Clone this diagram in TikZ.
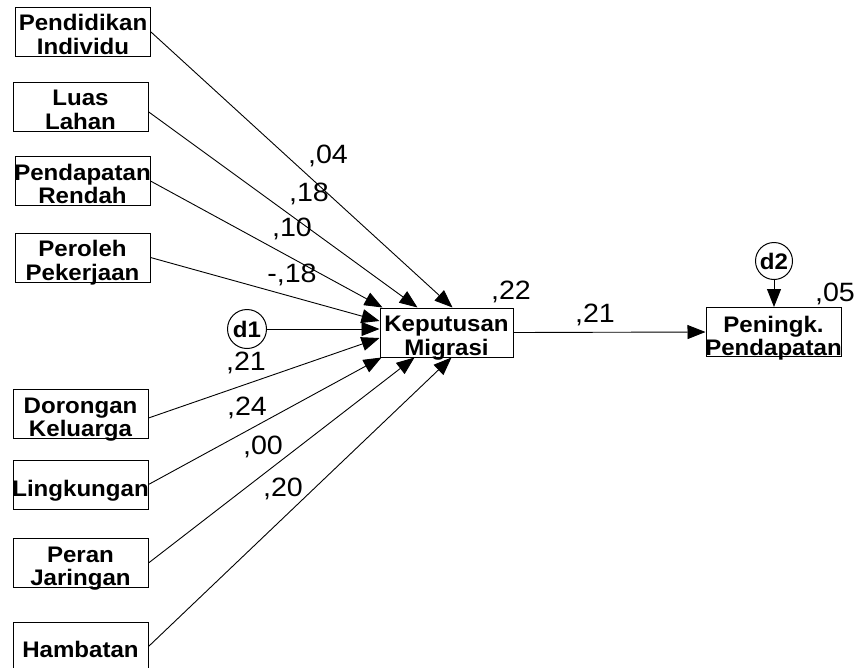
\documentclass[tikz,border=0pt]{standalone}
\usepackage{fontspec}
\setmainfont{Liberation Sans}
\newfontfamily\boxfont[FakeStretch=1.07]{Liberation Sans}
\newfontfamily\numfont[FakeStretch=1.08]{Liberation Sans}
\usetikzlibrary{arrows.meta}
\newcommand\twoline[2]{\begin{tabular}[t]{@{}c@{}}#1\\#2\end{tabular}}
\tikzset{
  vbox/.style={draw, line width=1pt, minimum width=135pt, minimum height=49pt, inner sep=0pt},
  vtext/.style={anchor=base, inner sep=0pt, font=\boxfont\bfseries\fontsize{22.5}{23.5}\selectfont},
  coef/.style={anchor=base, inner sep=0pt, font=\numfont\fontsize{26.5}{30}\selectfont},
  errc/.style={draw, circle, line width=1pt, inner sep=0pt, font=\boxfont\bfseries\fontsize{22.5}{23.5}\selectfont},
  arr/.style={line width=0.9pt, -{Triangle[length=18pt,width=14pt]}},
}
\begin{document}
\begin{tikzpicture}[x=1pt,y=-1pt]
\clip (0,0) rectangle (862,667);
% exogenous boxes
\node[vbox] (b1) at (83,31.5) {};
\node[vtext] (t1) at ([yshift=-24pt]b1.north) {\twoline{Pendidikan}{Individu}};
\node[vbox] (b2) at (80.5,106.8) {};
\node[vtext] (t2) at ([yshift=-24pt]b2.north) {\twoline{Luas}{Lahan}};
\node[vbox] (b3) at (82.5,181) {};
\node[vtext] (t3) at ([yshift=-24pt]b3.north) {\twoline{Pendapatan}{Rendah}};
\node[vbox] (b4) at (82.5,257.5) {};
\node[vtext] (t4) at ([yshift=-24pt]b4.north) {\twoline{Peroleh}{Pekerjaan}};
\node[vbox] (b5) at (80.5,414) {};
\node[vtext] (t5) at ([yshift=-24pt]b5.north) {\twoline{Dorongan}{Keluarga}};
\node[vbox] (b6) at (80.5,484.5) {};
\node[vtext] (t6) at ([yshift=-36.5pt]b6.north) {Lingkungan};
\node[vbox] (b7) at (80.5,563) {};
\node[vtext] (t7) at ([yshift=-24pt]b7.north) {\twoline{Peran}{Jaringan}};
\node[vbox] (b8) at (80.5,646.5) {};
\node[vtext] (t8) at ([yshift=-36pt]b8.north) {Hambatan};
% endogenous boxes
\node[vbox, minimum width=133pt] (kep) at (446.5,332.5) {};
\node[vtext] (tk) at ([yshift=-24pt]kep.north) {\twoline{Keputusan}{Migrasi}};
\node[vbox] (pen) at (773.5,332) {};
\node[vtext] (tp) at ([yshift=-25pt]pen.north) {\twoline{Peningk.}{Pendapatan}};
% error terms
\node[errc, minimum size=39pt] (d1) at (247,329) {d1};
\node[errc, minimum size=37pt] (d2) at (774,261) {d2};
% connectors
\draw[arr] ([yshift=-0.5pt]b1.east) -- ([xshift=73pt]kep.north west);
\draw[arr] ([yshift=-5pt]b2.east) -- ([xshift=38pt]kep.north west);
\draw[arr] (b3.east) -- ([xshift=3pt]kep.north west);
\draw[arr] (b4.east) -- ([yshift=11.5pt]kep.west);
\draw[arr] (d1.east) -- (kep.west |- d1);
\draw[arr] ([yshift=-4pt]b5.east) -- ([yshift=-5.5pt]kep.west);
\draw[arr] (b6.east) -- ([xshift=2pt]kep.south west);
\draw[arr] (b7.east) -- ([xshift=35pt]kep.south west);
\draw[arr] (b8.east) -- ([xshift=72pt]kep.south west);
\draw[arr] (kep.east) -- (pen.west);
\draw[arr] (d2.south) -- (d2 |- pen.north);
% coefficients
\node[coef] (c1) at (328,163) {,04};
\node[coef] (c2) at (309,201) {,18};
\node[coef] (c3) at (292,236) {,10};
\node[coef] (c4) at (292,282) {-,18};
\node[coef] (c5) at (246,370) {,21};
\node[coef] (c6) at (247,415) {,24};
\node[coef] (c7) at (263,454) {,00};
\node[coef] (c8) at (283,496) {,20};
\node[coef] (r1) at (511,299) {,22};
\node[coef] (c9) at (595,322) {,21};
\node[coef] (r2) at (835,301) {,05};
\end{tikzpicture}
\end{document}
